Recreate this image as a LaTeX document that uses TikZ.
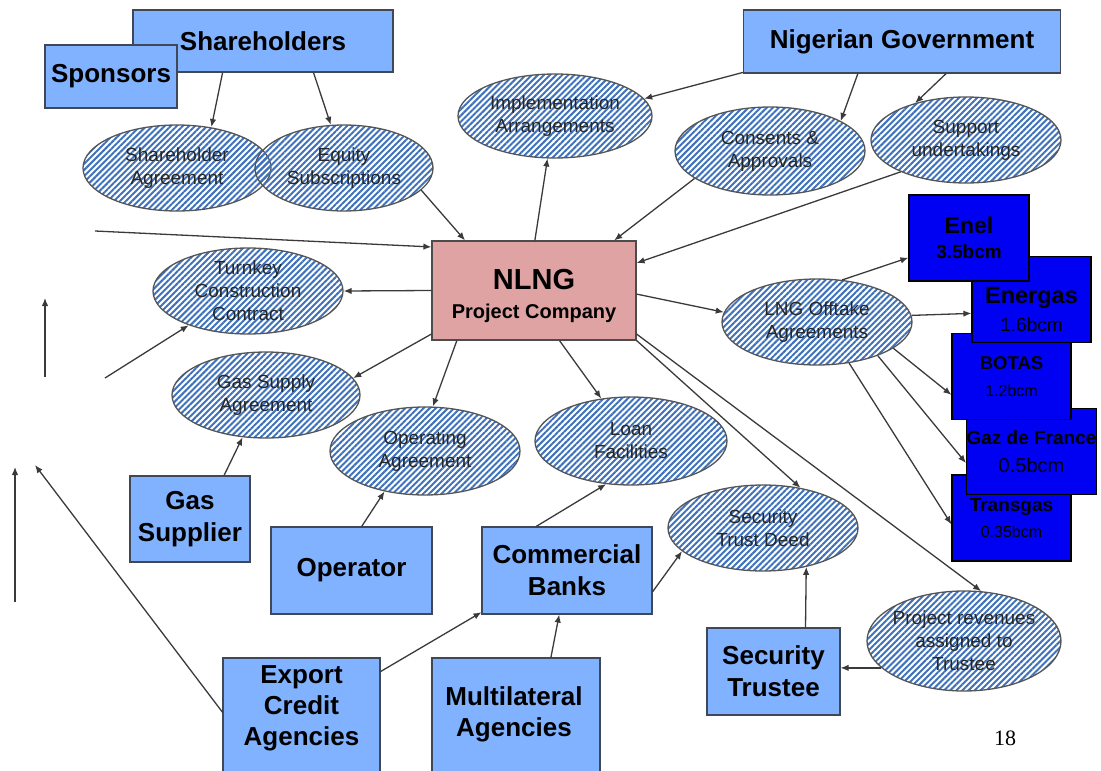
\documentclass[tikz,border=0pt]{standalone}
\usepackage{fontspec}
\setmainfont{Liberation Sans}
\newfontfamily\pagenumfont{Liberation Serif}
\usetikzlibrary{shapes.geometric,patterns.meta,arrows.meta}

\definecolor{partyblue}{HTML}{80B2FF}
\definecolor{partyline}{HTML}{404858}
\definecolor{buyerblue}{HTML}{0000F2}
\definecolor{nlngpink}{HTML}{DFA3A3}
\definecolor{stripe}{HTML}{3F72BC}
\definecolor{ringgray}{HTML}{555555}
\definecolor{linkgray}{HTML}{3A3A3A}

\begin{document}
\begin{tikzpicture}[x=1pt,y=-1pt,
  party/.style={rectangle, draw=partyline, line width=1.1pt, fill=partyblue,
    inner sep=0pt, align=center, font=\bfseries\fontsize{26}{32}\selectfont},
  partytext/.style={align=center, inner sep=0pt, font=\bfseries\fontsize{26}{31}\selectfont},
  buyer/.style={rectangle, draw=black, line width=1.2pt, fill=buyerblue,
    inner sep=0pt, align=center, minimum width=119pt, minimum height=86pt},
  pact/.style={ellipse, draw=ringgray, line width=1.3pt,
    pattern={Lines[angle=45,distance=4.3pt,line width=2pt]}, pattern color=stripe,
    inner xsep=0pt, inner ysep=-2pt, align=center, text=black!85,
    font=\fontsize{19}{23}\selectfont},
  link/.style={draw=linkgray, line width=1.3pt, -{Latex[length=8pt,width=6.5pt]}}
]
\useasboundingbox (0,0) rectangle (1101,771);
\clip (0,0) rectangle (1101,771);

% parties
\node[party, minimum width=260pt, minimum height=62pt] (sh) at (263,41) {Shareholders};
\node[party, minimum width=132pt, minimum height=63pt] (sp) at (111,76.5) {Sponsors};
\node[party, minimum width=317pt, minimum height=63pt] (gov) at (902,41.5) {Nigerian Government};
\node[party, minimum width=120pt, minimum height=86pt] (gassup) at (190,519) {Gas\\Supplier};
\node[party, minimum width=161pt, minimum height=87pt] (oper) at (351.5,570.5) {Operator};
\node[party, minimum width=170pt, minimum height=87pt] (banks) at (567,570.5) {Commercial\\Banks};
\node[party, minimum width=133pt, minimum height=87pt] (trustee) at (773.5,671.5) {Security\\Trustee};
\node[party, minimum width=157pt, minimum height=142pt] (eca) at (301.5,729) {};
\node[partytext] (ecatext) at (301.5,708) {Export\\Credit\\Agencies};
\node[party, minimum width=168pt, minimum height=142pt] (mla) at (516,729) {};
\node[partytext] (mlatext) at (514,714) {Multilateral\\Agencies};

% project company
\node[rectangle, draw=gray!60!black, line width=1.2pt, fill=nlngpink,
  minimum width=204pt, minimum height=99pt, inner sep=0pt, align=center,
  font=\bfseries\fontsize{20}{29}\selectfont] (nlng) at (534,290.5)
  {{\fontsize{29}{29}\selectfont\rule{0pt}{31pt}NLNG}\\Project Company};

% offtakers
\node[buyer, font=\fontsize{16}{26}\selectfont] (transgas) at (1011.5,518)
  {{\bfseries\fontsize{19}{26}\selectfont Transgas}\\0.35bcm};
\node[buyer, font=\fontsize{20}{28}\selectfont] (gdf) at (1031.5,451.5)
  {{\bfseries\fontsize{19}{28}\selectfont Gaz de France}\\0.5bcm};
\node[buyer, font=\fontsize{16}{27}\selectfont] (botas) at (1011.5,376.5)
  {{\bfseries\fontsize{18.5}{27}\selectfont BOTAS}\\1.2bcm};
\node[buyer, font=\fontsize{19}{28}\selectfont] (energas) at (1031.5,299.5)
  {{\bfseries\fontsize{23.5}{28}\selectfont\rule{0pt}{37pt}Energas}\\1.6bcm};
\node[buyer, minimum width=120pt, font=\bfseries\fontsize{19}{25}\selectfont] (enel) at (969,238)
  {{\fontsize{23}{25}\selectfont Enel}\\3.5bcm};

% agreements
\node[pact, minimum width=188pt, minimum height=86pt] (shag) at (177,168) {Shareholder\\Agreement};
\node[pact, minimum width=178pt, minimum height=86pt] (eq) at (344,168) {Equity\\Subscriptions};
\node[pact, minimum width=194pt, minimum height=84pt] (impl) at (555,116) {Implementation\\Arrangements};
\node[pact, minimum width=190pt, minimum height=88pt] (cons) at (770,151) {Consents \&\\Approvals};
\node[pact, minimum width=190pt, minimum height=86pt] (supp) at (966,140) {Support\\undertakings};
\node[pact, minimum width=190pt, minimum height=86pt] (turn) at (248,291) {Turnkey\\Construction\\Contract};
\node[pact, minimum width=190pt, minimum height=86pt] (lng) at (817,322) {LNG Offtake\\Agreements};
\node[pact, minimum width=188pt, minimum height=86pt] (gsa) at (266,395) {Gas Supply\\Agreement};
\node[pact, minimum width=190pt, minimum height=88pt] (opa) at (425,451) {Operating\\Agreement};
\node[pact, minimum width=192pt, minimum height=88pt] (loan) at (631,441) {Loan\\Facilities};
\node[pact, minimum width=190pt, minimum height=86pt] (std) at (763,528) {Security\\Trust Deed};
\node[pact, minimum width=194pt, minimum height=100pt, inner xsep=-4pt] (rev) at (964,641) {Project revenues\\assigned to\\Trustee};

\node[font=\pagenumfont\fontsize{22}{22}\selectfont] (pagenum) at (1005,738) {18};

% free ends
\coordinate (westin) at (95,231);
\coordinate (tkfoot) at (105,378);
\coordinate (riseAlo) at (45,377);
\coordinate (riseAhi) at (45,298);
\coordinate (riseBlo) at (15,602);
\coordinate (riseBhi) at (15,467);
\coordinate (ecaend) at (35,465);

% connectors
\draw[link] (sh.-142) -- (shag.50.7);
\draw[link] (sh.-32.6) -- (eq.107.6);
\draw[link] (eq.-16.6) -- (nlng.144.1);
\draw[link] (westin) -- (nlng.157.4);
\draw[link] (nlng.west) -- (turn.east);
\draw[link] (tkfoot) -- (turn.210.1);
\draw[link] (riseAlo) -- (riseAhi);
\draw[link] (riseBlo) -- (riseBhi);
\draw[link] (eca.168.6) -- (ecaend);
\draw[link] (gov.191.6) -- (impl.11.3);
\draw[link] (gov.216.4) -- (cons.23.9);
\draw[link] (gov.-36.4) -- (supp.144.1);
\draw[link] (cons.200.9) -- (nlng.32.1);
\draw[link] (supp.206.9) -- (nlng.15.3);
\draw[link] (nlng.89) -- (impl.260.1);
\draw[link] (nlng.-2) -- (lng.174.4);
\draw[link] (lng.59.8) -- (enel.198.2);
\draw[link] (lng.4.8) -- (energas.193.5);
\draw[link] (lng.-19.7) -- (botas.197.3);
\draw[link] (lng.-29) -- (gdf.190);
\draw[link] (lng.-52.1) -- (transgas.186.7);
\draw[link] (nlng.203.8) -- (gsa.11.8);
\draw[link] (nlng.213.1) -- (opa.80.1);
\draw[link] (nlng.-63.2) -- (loan.125.4);
\draw[link] (nlng.-26.3) -- (std.47);
\draw[link] (nlng.-23.6) -- (rev.71.9);
\draw[link] (gassup.52.5) -- (gsa.241.4);
\draw[link] (oper.77.7) -- (opa.225.6);
\draw[link] (banks.125.5) -- (loan.240.4);
\draw[link] (banks.-14.2) -- (std.196.4);
\draw[link] (eca.36.6) -- (banks.206.3);
\draw[link] (mla.64.7) -- (banks.260);
\draw[link] (trustee.54.1) -- (std.-42.6);
\draw[link] (rev.198.4) -- (rev.198.4 -| trustee.east);
\end{tikzpicture}
\end{document}
